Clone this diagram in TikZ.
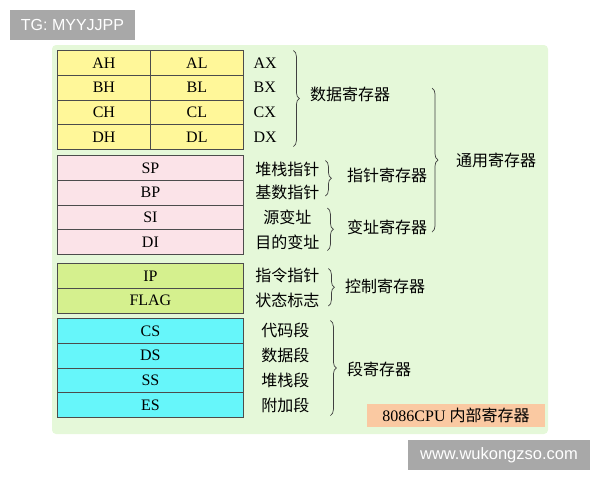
\documentclass[tikz,border=0pt]{standalone}
\usepackage{fontspec}
\setmainfont{Liberation Serif}
\newfontfamily\cjk{Noto Sans CJK SC}
\newfontfamily\wmfont{Liberation Sans}
\usetikzlibrary{matrix,positioning,decorations.pathreplacing}
\definecolor{panelgreen}{HTML}{E5F8D9}
\definecolor{yellowreg}{HTML}{FFF799}
\definecolor{pinkreg}{HTML}{FBE3E8}
\definecolor{greenreg}{HTML}{D5F08E}
\definecolor{cyanreg}{HTML}{66F6FA}
\definecolor{capfill}{HTML}{FAC9A2}
\definecolor{wmgray}{HTML}{A8A8A8}
\begin{document}
\begin{tikzpicture}[x=1pt,y=-1pt,
        regs/.style={matrix of nodes, line width=0.8pt, inner sep=0pt, outer sep=0pt, column sep=-\pgflinewidth, row sep=-\pgflinewidth, anchor=north west,
        nodes={draw=black!70, fill=#1, minimum width=93pt, minimum height=24.8pt, inner sep=0pt, font=\fontsize{16}{16}\selectfont}},
        wide/.style={nodes={minimum width=186pt}},
        lbl/.style={inner sep=0pt, font=\fontsize{16}{16}\selectfont},
        cnlbl/.style={inner sep=0pt, font=\cjk\fontsize{16}{16}\selectfont},
        brace/.style={decorate, decoration={brace, amplitude=6pt}, draw=black!75, line width=0.7pt},
        watermark/.style={fill=wmgray, text=white, inner sep=0pt, font=\wmfont\fontsize{16}{16}\selectfont}]
    \useasboundingbox (0,0) rectangle (600,480);
    \fill[panelgreen, rounded corners=4pt] (52,45) rectangle (548,434);
    % register blocks
    \matrix[regs=yellowreg] (gen) at (57,50) {
    AH & AL \\ BH & BL \\ CH & CL \\ DH & DL \\};
    \matrix[regs=pinkreg, wide] (ptr) at (57,155) {
    SP \\ BP \\ SI \\ DI \\};
    \matrix[regs=greenreg, wide] (ctl) at (57,263) {
    IP \\ FLAG \\};
    \matrix[regs=cyanreg, wide] (seg) at (57,318) {
    CS \\ DS \\ SS \\ ES \\};
    % names beside the blocks
    \foreach \r/\t in {1/AX,2/BX,3/CX,4/DX}
        \node[lbl, right=10pt of gen-\r-2] (l\t) {\t};
    \node[cnlbl] (lsp) at ([xshift=44pt,yshift=-2pt]ptr-1-1.east) {堆栈指针};
    \node[cnlbl] (lbp) at ([xshift=44pt]ptr-2-1.east) {基数指针};
    \node[cnlbl] (lsi) at ([xshift=44pt]ptr-3-1.east) {源变址};
    \node[cnlbl] (ldi) at ([xshift=44pt]ptr-4-1.east) {目的变址};
    \node[cnlbl] (lip) at ([xshift=44pt]ctl-1-1.east) {指令指针};
    \node[cnlbl] (lflag) at ([xshift=44pt]ctl-2-1.east) {状态标志};
    \node[cnlbl] (lcs) at ([xshift=42pt]seg-1-1.east) {代码段};
    \node[cnlbl] (lds) at ([xshift=42pt]seg-2-1.east) {数据段};
    \node[cnlbl] (lss) at ([xshift=42pt]seg-3-1.east) {堆栈段};
    \node[cnlbl] (les) at ([xshift=42pt]seg-4-1.east) {附加段};
    % braces and group names
    \draw[brace] ([xshift=50pt]gen-1-2.north east) -- ([xshift=50pt,yshift=3pt]gen-4-2.south east);
    \node[cnlbl, anchor=west] (data) at (310,94) {数据寄存器};
    \draw[brace] ([shift={(82pt,-5pt)}]ptr-1-1.north east) -- ([shift={(82pt,9pt)}]ptr-2-1.south east);
    \node[cnlbl, anchor=west] (pointer) at (347,175) {指针寄存器};
    \draw[brace] ([shift={(84pt,-3pt)}]ptr-3-1.north east) -- ([shift={(84pt,4pt)}]ptr-4-1.south east);
    \node[cnlbl, anchor=west] (index) at (347,227) {变址寄存器};
    \coordinate (gtop) at (432,88);
    \coordinate (gbot) at (432,232);
    \draw[brace] (gtop) -- (gbot);
    \node[cnlbl, anchor=west] (general) at (456,160) {通用寄存器};
    \draw[brace] ([shift={(85pt,-5pt)}]ctl-1-1.north east) -- ([shift={(85pt,7pt)}]ctl-2-1.south east);
    \node[cnlbl, anchor=west] (control) at (345,286) {控制寄存器};
    \draw[brace] ([shift={(87pt,-2pt)}]seg-1-1.north east) -- ([shift={(87pt,2pt)}]seg-4-1.south east);
    \node[cnlbl, anchor=west] (segment) at (347,369) {段寄存器};
    \node[fill=capfill, minimum width=178pt, minimum height=23pt, inner sep=0pt, font=\fontsize{16}{16}\selectfont] (title) at (456,415.5) {8086CPU {\cjk\fontsize{16}{16}\selectfont 内部寄存器}};
    % watermarks
    \node[watermark, minimum width=125pt, minimum height=30pt] (tg) at (72.5,25) {TG: MYYJJPP};
    \node[watermark, minimum width=182pt, minimum height=30pt, font=\wmfont\fontsize{16.5}{16.5}\selectfont] (site) at (499,455) {www.wukongzso.com};
\end{tikzpicture}
\end{document}
